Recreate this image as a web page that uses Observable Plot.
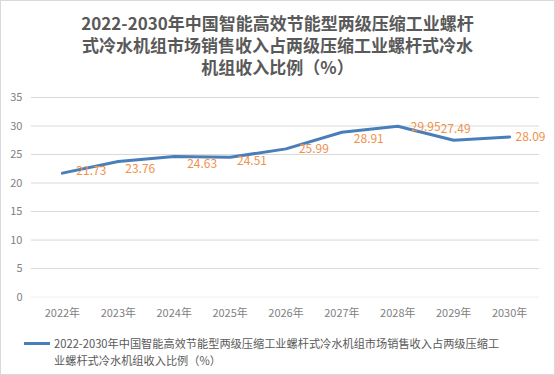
<!DOCTYPE html>
<html><head><meta charset="utf-8">
<script src="https://cdn.jsdelivr.net/npm/d3@7"></script>
<script src="https://cdn.jsdelivr.net/npm/@observablehq/plot@0.6"></script>
<style>
html,body{margin:0;padding:0;background:#fff;}
#wrap{position:relative;width:553px;height:373px;border:1px solid #d9d9d9;overflow:hidden;font-family:"Noto Sans CJK SC","Noto Sans",sans-serif;}
#title{position:absolute;left:0;top:11px;width:553px;text-align:center;font-size:17px;font-weight:bold;color:#595959;line-height:22px;}
#chart{position:absolute;left:-1px;top:79px;}
#legend{position:absolute;left:23px;top:334px;display:flex;align-items:flex-start;font-size:11.2px;color:#595959;line-height:16.5px;}
#legend .sw{width:26px;height:3px;background:#4A7EBB;margin-top:7px;margin-right:4px;flex:none;}
</style></head>
<body><div id="wrap">
<div id="title">2022-2030年中国智能高效节能型两级压缩工业螺杆<br>式冷水机组市场销售收入占两级压缩工业螺杆式冷水<br>机组收入比例（%）</div>
<div id="chart"></div>
<div id="legend"><div class="sw"></div><div>2022-2030年中国智能高效节能型两级压缩工业螺杆式冷水机组市场销售收入占两级压缩工<br>业螺杆式冷水机组收入比例（%）</div></div>
</div>
<script>
const years = ["2022年","2023年","2024年","2025年","2026年","2027年","2028年","2029年","2030年"];
const values = [21.73, 23.76, 24.63, 24.51, 25.99, 28.91, 29.95, 27.49, 28.09];
const yTicks = [0, 5, 10, 15, 20, 25, 30, 35];
// label placement offsets (layout only)
const labelDx = [14, 7, 13, 7, 13, 12, 13, -13, 6];
const labelDy = [-2, 7.5, 7.5, 4, 0, 7, 1, -11, 0];

const data = years.map((y, i) => ({year: y, value: values[i], i}));

const labelMarks = data.map((d, i) => Plot.text([d], {
  x: "year", y: "value", text: d => d.value.toFixed(2),
  dx: labelDx[i], dy: labelDy[i], textAnchor: "start",
  fill: "#F0904A", fontSize: 12
}));

const chart = Plot.plot({
  width: 555, height: 246,
  marginLeft: 31, marginRight: 15, marginTop: 17, marginBottom: 29,
  style: {fontFamily: "'Noto Sans CJK SC','Noto Sans',sans-serif", fontSize: "11px", color: "#7f7f7f", background: "transparent"},
  x: {type: "point", domain: years, padding: 0.5, label: null},
  y: {domain: [0, 35], label: null},
  marks: [
    Plot.ruleY(yTicks.filter(t => t > 0), {stroke: "#d9d9d9", strokeWidth: 1}),
    Plot.ruleY([0], {stroke: "#efefef", strokeWidth: 1}),
    Plot.axisY({ticks: yTicks, tickSize: 0, tickPadding: 9, label: null, fill: "#7f7f7f"}),
    Plot.axisX({tickSize: 0, tickPadding: 12, label: null, fill: "#7f7f7f"}),
    Plot.line(data, {x: "year", y: "value", stroke: "#4A7EBB", strokeWidth: 3, strokeLinecap: "round", strokeLinejoin: "round"}),
    ...labelMarks
  ]
});
document.getElementById("chart").appendChild(chart);
</script>
</body></html>
